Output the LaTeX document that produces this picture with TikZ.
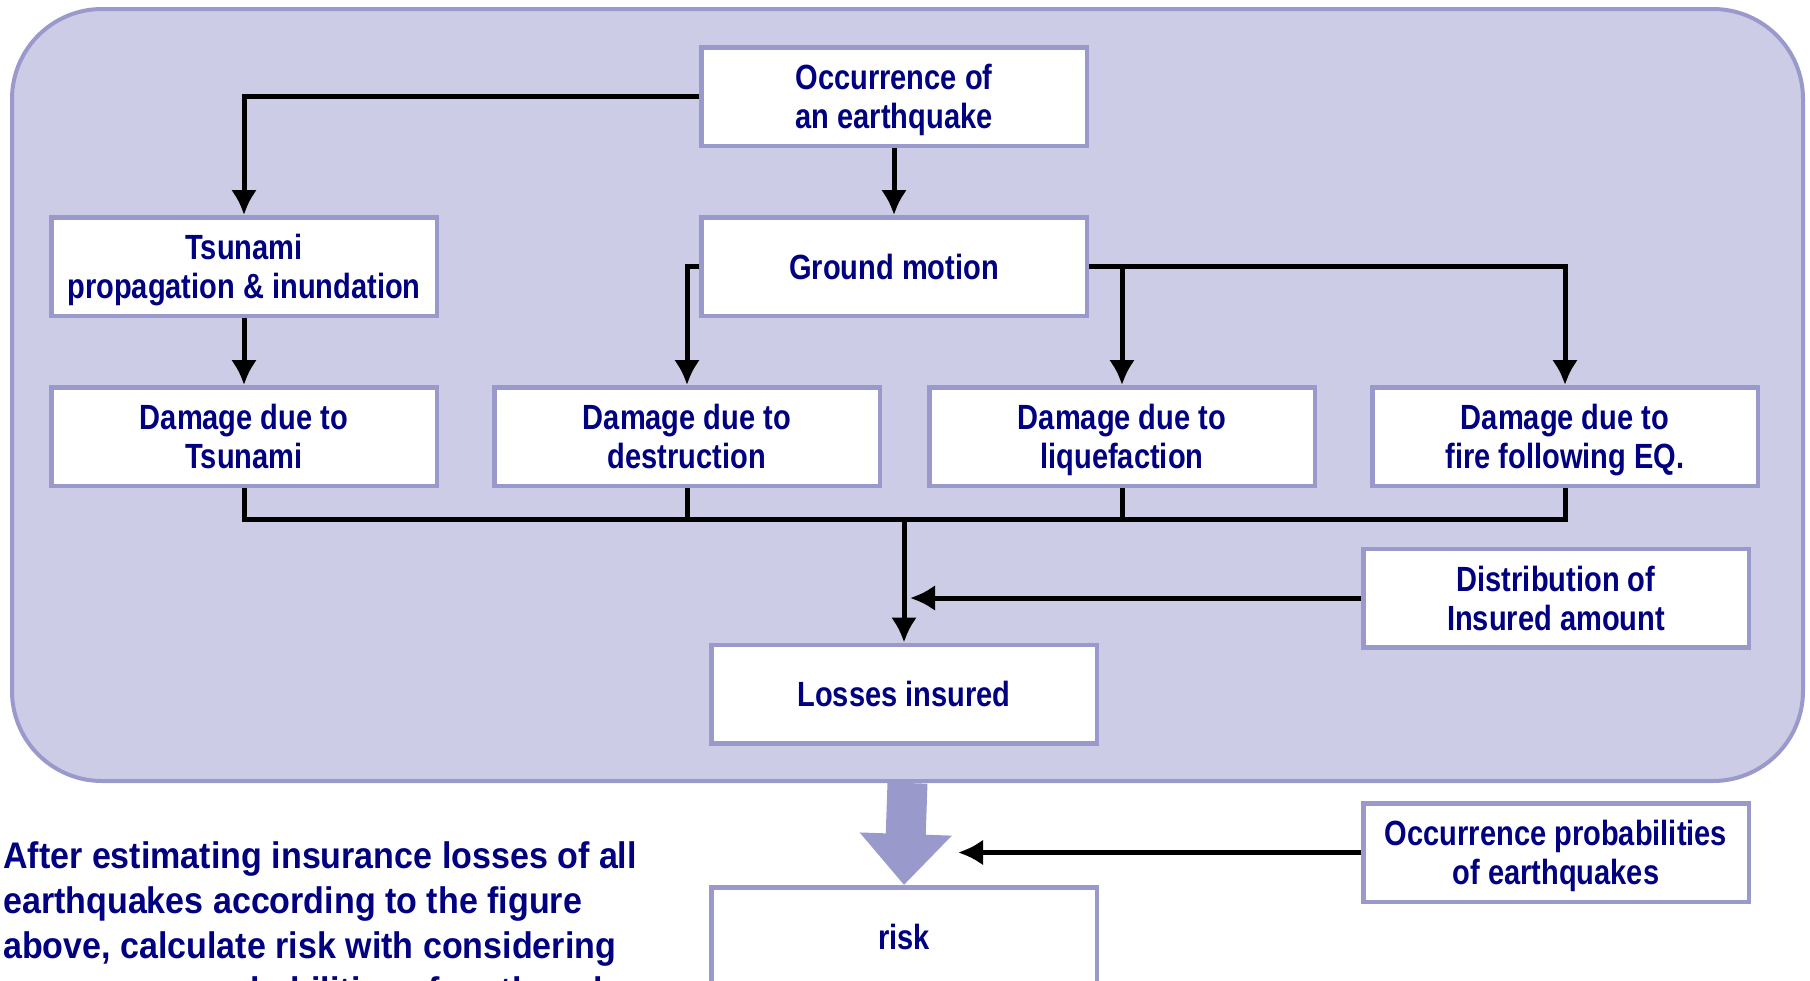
\documentclass[tikz,border=0pt]{standalone}
\usepackage{fontspec}
\setmainfont{Liberation Sans}[FakeStretch=0.83]
\newfontfamily\notefont{Liberation Sans}[FakeStretch=0.92]
\usetikzlibrary{arrows.meta,positioning}
\definecolor{framefill}{RGB}{204,204,230}
\definecolor{frameline}{RGB}{153,153,204}
\definecolor{flowtext}{RGB}{0,0,128}

\begin{document}
\begin{tikzpicture}[
    x=1pt, y=-1pt,
    node distance=67pt and 53pt,
    flowbox/.style={draw=frameline, line width=4.5pt, fill=white, align=center, inner sep=0pt,
      minimum width=385.5pt, minimum height=98.5pt, text=flowtext, text depth=-6pt,
      font=\fontsize{35}{39}\selectfont\bfseries},
    flowarrow/.style={-{Latex[length=25pt,width=26pt]}, line width=5pt},
    flowline/.style={line width=5pt},
    bigarrow/.style={-{Triangle[length=51pt,width=89pt]}, line width=40pt, draw=frameline}
  ]
    \useasboundingbox (0,0) rectangle (1810,980);
    \clip (0,0) rectangle (1810,980);
    \node[draw=frameline, fill=framefill, line width=4pt, rounded corners=90pt,
      minimum width=1791pt, minimum height=772pt] (frame) at (907.5,395) {};
    \node[flowbox] (occ) at (894,96.5) {Occurrence of\\ an earthquake};
    \node[flowbox, below=of occ] (ground) {Ground motion};
    \node[flowbox, left=260pt of ground] (tsuprop) {Tsunami\\ propagation \& inundation};
    \node[flowbox, below=of tsuprop] (dmgtsu) {Damage due to\\ Tsunami};
    \node[flowbox, right=of dmgtsu] (dmgdes) {Damage due to\\ destruction};
    \node[flowbox, right=45pt of dmgdes] (dmgliq) {Damage due to\\ liquefaction};
    \node[flowbox, right=of dmgliq] (dmgfire) {Damage due to\\ fire following EQ.};
    \node[flowbox] (losses) at (904,694) {Losses insured};
    \node[flowbox] (dist) at (1556,598) {Distribution of\\ Insured amount};
    \node[flowbox] (prob) at (1556,852.5) {Occurrence probabilities\\ of earthquakes};
    \node[flowbox] (risk) at (904,936.5) {risk};
    \node[anchor=base west, align=left, inner sep=0pt, text=flowtext,
      font=\notefont\fontsize{37}{45}\selectfont\bfseries] (note) at (3,1003)
      {After estimating insurance losses of all\\ earthquakes according to the figure\\
       above, calculate risk with considering\\ occurrence probabilities of earthquakes.};
    \coordinate (bus) at (904,519);
    \coordinate (distin) at (910,598);
    \coordinate (probin) at (958,852.5);
    \draw[flowarrow] (occ.west) -| (tsuprop.north);
    \draw[flowarrow] (occ) -- (ground);
    \draw[flowarrow] (tsuprop) -- (dmgtsu);
    \draw[flowarrow] (ground.west) -| (dmgdes.north);
    \draw[flowarrow] (ground.east) -| (dmgfire.north);
    \draw[flowarrow] (ground.east -| dmgliq.north) -- (dmgliq.north);
    \draw[flowline] (dmgtsu.south) |- (bus) -| (dmgfire.south);
    \draw[flowline] (dmgdes.south) -- (dmgdes.south |- bus);
    \draw[flowline] (dmgliq.south) -- (dmgliq.south |- bus);
    \draw[flowarrow] (bus) -- (losses);
    \draw[flowarrow] (dist) -- (distin);
    \draw[flowarrow] (prob) -- (probin);
    \draw[bigarrow] (frame.south) -- (risk.north);
  \end{tikzpicture}
\end{document}
